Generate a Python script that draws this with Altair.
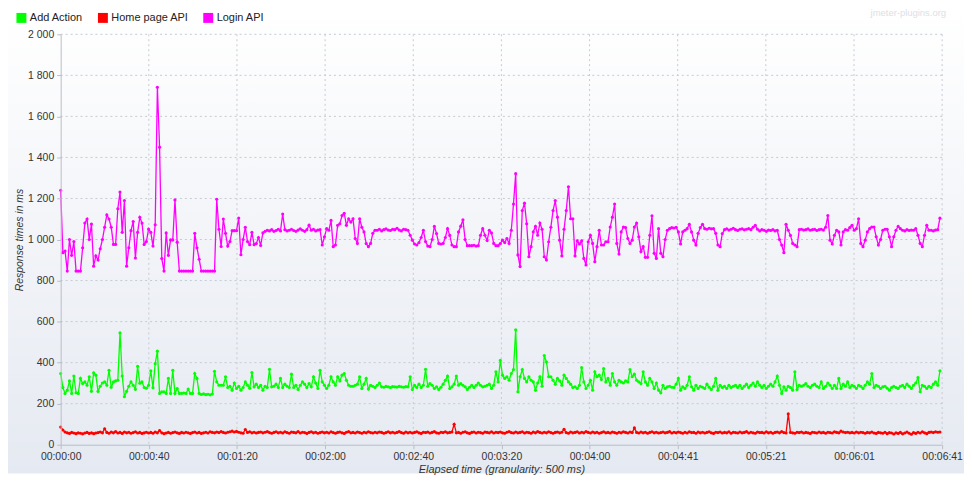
import altair as alt
import pandas as pd

# ---------------- data (1 sample per second) ----------------
series_names = ["Add Action", "Home page API", "Login API"]
series_colors = ["#00ff00", "#ff0000", "#ff00ff"]

x_tick_values = [0, 40.1, 80.2, 120.3, 160.4, 200.5, 240.6, 280.7, 320.8, 360.9, 401]
x_tick_labels = ["00:00:00", "00:00:40", "00:01:20", "00:02:00", "00:02:40", "00:03:20",
                 "00:04:00", "00:04:41", "00:05:21", "00:06:01", "00:06:41"]
y_tick_values = [0, 200, 400, 600, 800, 1000, 1200, 1400, 1600, 1800, 2000]

login_api = [
    1240, 936, 944, 846, 1000, 923, 990, 846, 846, 846, 960, 1080, 1100, 1000, 1075, 870, 920, 900, 955, 1000,
    1060, 1120, 1100, 1060, 976, 976, 1150, 1231, 1035, 1190, 870, 960, 1043, 1088, 910, 1035, 1108, 1080, 976, 990,
    1051, 1035, 968, 1072, 1742, 1450, 907, 846, 1032, 923, 998, 998, 1193, 987, 846, 846, 846, 846, 846, 846,
    846, 1030, 960, 904, 846, 846, 846, 846, 846, 846, 846, 1196, 1050, 966, 1100, 1030, 968, 990, 1043, 1043,
    1043, 1105, 926, 1000, 1060, 990, 975, 1035, 975, 980, 1010, 971, 1032, 1040, 1045, 1042, 1048, 1040, 1044, 1050,
    1042, 1124, 1048, 1042, 1045, 1050, 1044, 1040, 1046, 1052, 1045, 1040, 1048, 1070, 1045, 1050, 1042, 1046, 1048, 973,
    1013, 1053, 1045, 1093, 965, 973, 1069, 1077, 1117, 1128, 1069, 1101, 1085, 1101, 1005, 981, 1101, 1060, 1037, 980,
    965, 981, 1030, 1045, 1045, 1050, 1042, 1048, 1052, 1046, 1044, 1050, 1048, 1055, 1046, 1042, 1050, 1048, 1045, 1021,
    997, 978, 973, 985, 1010, 1045, 990, 968, 965, 1000, 1064, 1029, 981, 978, 981, 1010, 1053, 1020, 973, 965,
    965, 1037, 1065, 1096, 1000, 970, 970, 970, 972, 968, 970, 1021, 1053, 1021, 995, 1045, 1032, 981, 970, 970,
    980, 997, 985, 1005, 981, 1045, 1173, 1321, 925, 868, 1141, 1177, 1077, 916, 965, 1037, 1064, 1021, 1080, 1050,
    916, 900, 989, 1060, 1141, 1190, 1109, 997, 920, 1050, 1141, 1257, 1101, 1101, 920, 994, 978, 994, 908, 876,
    989, 1021, 981, 892, 965, 1045, 973, 973, 989, 989, 1061, 1109, 1173, 981, 929, 1037, 1061, 1058, 1005, 981,
    997, 1061, 1080, 1013, 941, 965, 913, 913, 1021, 1116, 933, 908, 1053, 933, 916, 1000, 1045, 1053, 1058, 1056,
    1060, 1037, 978, 1037, 1045, 1053, 1074, 1037, 997, 973, 1030, 1058, 1074, 1053, 1050, 1055, 1052, 1053, 1030, 973,
    965, 1029, 1048, 1052, 1046, 1050, 1055, 1048, 1044, 1050, 1052, 1047, 1050, 1053, 1048, 1060, 1069, 1050, 1042, 1048,
    1045, 1040, 1046, 1044, 1048, 1042, 1045, 1000, 973, 936, 1074, 1045, 1020, 981, 973, 965, 1048, 1050, 1046, 1048,
    1052, 1045, 1048, 1050, 1044, 1048, 1050, 1046, 1060, 1117, 997, 978, 1021, 1045, 1037, 973, 1037, 1048, 1045, 1058,
    1069, 1045, 1053, 1101, 981, 965, 997, 1037, 1053, 1061, 1061, 1013, 973, 1000, 1045, 1050, 1050, 1013, 965, 1013,
    1045, 1064, 1053, 1045, 1042, 1048, 1044, 1046, 1045, 1053, 1021, 981, 965, 1021, 1069, 1045, 1045, 1042, 1046, 1048,
    1104,
]

add_action = [
    347, 279, 250, 266, 311, 250, 335, 253, 250, 323, 298, 306, 290, 331, 260, 350, 339, 260, 285, 301,
    306, 290, 363, 280, 306, 311, 314, 545, 335, 234, 260, 285, 306, 290, 270, 382, 300, 306, 279, 275,
    290, 360, 278, 395, 456, 250, 258, 258, 250, 323, 250, 363, 250, 274, 250, 250, 252, 250, 271, 250,
    250, 347, 323, 250, 245, 248, 244, 246, 243, 247, 358, 306, 290, 290, 290, 331, 279, 285, 266, 301,
    274, 285, 266, 279, 306, 290, 275, 352, 282, 295, 279, 290, 266, 285, 279, 368, 282, 285, 295, 279,
    323, 279, 295, 285, 279, 344, 279, 290, 269, 290, 306, 295, 279, 298, 282, 331, 301, 274, 363, 306,
    290, 274, 290, 331, 306, 290, 331, 311, 339, 347, 314, 290, 285, 285, 290, 295, 331, 274, 295, 323,
    271, 290, 285, 279, 290, 301, 282, 280, 284, 282, 279, 283, 282, 281, 284, 282, 280, 283, 282, 331,
    269, 290, 279, 295, 279, 290, 368, 285, 298, 290, 274, 282, 269, 280, 295, 314, 335, 274, 282, 295,
    335, 290, 298, 290, 282, 269, 280, 290, 279, 290, 301, 290, 282, 285, 290, 295, 274, 290, 355, 306,
    411, 339, 323, 331, 314, 347, 366, 560, 258, 331, 366, 323, 306, 331, 314, 306, 266, 301, 331, 285,
    435, 403, 331, 331, 314, 295, 323, 311, 290, 339, 323, 306, 295, 279, 282, 274, 290, 376, 306, 274,
    290, 314, 266, 355, 331, 339, 318, 371, 306, 323, 290, 347, 306, 290, 314, 306, 301, 311, 306, 366,
    331, 344, 314, 306, 298, 355, 306, 290, 323, 306, 274, 301, 266, 253, 290, 274, 282, 285, 280, 279,
    295, 323, 266, 282, 274, 290, 331, 282, 266, 290, 274, 285, 280, 274, 295, 280, 269, 285, 323, 266,
    290, 279, 285, 274, 290, 279, 285, 290, 279, 290, 274, 285, 295, 279, 290, 301, 285, 306, 290, 279,
    290, 274, 285, 295, 285, 306, 335, 290, 250, 282, 266, 285, 279, 266, 355, 269, 290, 285, 290, 298,
    285, 279, 290, 295, 285, 279, 306, 274, 285, 301, 290, 274, 290, 274, 323, 274, 295, 285, 306, 279,
    290, 285, 274, 290, 285, 274, 290, 306, 295, 347, 279, 290, 285, 274, 282, 285, 275, 266, 279, 285,
    279, 274, 285, 290, 279, 295, 285, 274, 290, 301, 327, 258, 290, 285, 274, 285, 279, 295, 306, 290,
    360,
]

home_page_api = [
    86, 72, 62, 58, 55, 60, 57, 54, 58, 56, 53, 57, 60, 55, 58, 54, 57, 59, 62, 58,
    78, 60, 56, 62, 58, 64, 57, 60, 55, 62, 58, 61, 56, 59, 63, 57, 60, 55, 58, 61,
    57, 60, 56, 62, 58, 69, 58, 54, 57, 60, 56, 59, 62, 58, 55, 60, 57, 61, 58, 55,
    59, 62, 57, 60, 55, 58, 61, 57, 63, 60, 58, 62, 59, 64, 60, 57, 61, 63, 66, 62,
    65, 61, 58, 56, 74, 60, 63, 58, 61, 57, 60, 62, 58, 61, 64, 59, 56, 60, 63, 58,
    61, 57, 63, 59, 56, 62, 60, 58, 64, 57, 61, 59, 55, 60, 63, 58, 61, 56, 59, 62,
    58, 61, 57, 63, 59, 56, 60, 62, 58, 55, 61, 64, 58, 60, 57, 62, 59, 56, 61, 58,
    63, 59, 57, 61, 58, 62, 60, 56, 59, 63, 58, 61, 57, 60, 64, 59, 56, 62, 58, 61,
    57, 60, 63, 58, 55, 61, 59, 62, 57, 60, 64, 58, 56, 61, 59, 63, 58, 60, 62, 100,
    58, 60, 56, 61, 63, 58, 55, 60, 62, 57, 61, 59, 56, 62, 60, 58, 63, 57, 61, 59,
    62, 58, 56, 61, 64, 59, 57, 62, 58, 60, 63, 57, 61, 59, 56, 62, 58, 64, 60, 57,
    61, 58, 63, 59, 56, 60, 62, 58, 61, 75, 59, 56, 62, 58, 60, 63, 57, 61, 58, 64,
    60, 57, 62, 58, 61, 56, 59, 63, 58, 60, 57, 62, 59, 56, 61, 58, 63, 60, 57, 62,
    59, 82, 60, 57, 62, 58, 61, 56, 60, 63, 58, 61, 57, 59, 62, 58, 60, 64, 57, 61,
    58, 62, 59, 56, 61, 57, 63, 59, 60, 56, 62, 58, 61, 57, 60, 63, 58, 55, 61, 59,
    62, 57, 60, 58, 63, 56, 61, 59, 57, 62, 58, 60, 64, 57, 61, 58, 56, 62, 59, 60,
    57, 63, 58, 61, 56, 60, 62, 58, 64, 59, 57, 150, 60, 58, 56, 61, 59, 62, 57, 60,
    58, 55, 61, 59, 57, 62, 58, 60, 56, 61, 59, 57, 63, 60, 58, 66, 62, 59, 61, 58,
    60, 57, 62, 58, 61, 59, 56, 60, 58, 62, 57, 55, 60, 58, 56, 61, 54, 59, 57, 52,
    58, 55, 60, 53, 57, 62, 56, 51, 59, 55, 61, 57, 63, 58, 54, 60, 62, 59, 63, 61,
    62,
]

sample_step_s = 1  # one reading per second of elapsed time

rows = []
for name, vals in zip(series_names, [add_action, home_page_api, login_api]):
    for i, v in enumerate(vals):
        rows.append({"t": i * sample_step_s, "ms": v, "series": name})
df = pd.DataFrame(rows)

# ---------------- layout ----------------
W, H = 887, 413
FONT = "Liberation Sans, Arial, sans-serif"
TXT = "#333333"
AXC = "#b9bdc6"
GRID = "#c6cad2"

xscale = alt.Scale(domain=[0, 401], nice=False, zero=False)
yscale = alt.Scale(domain=[0, 2000], nice=False)

label_expr = "[" + ",".join("'%s'" % s for s in x_tick_labels) + "][round(datum.value / 40.1)]"

x_axis = alt.Axis(
    values=x_tick_values, labelExpr=label_expr, grid=False, zindex=1,
    domainColor=AXC, tickColor=AXC, tickSize=4, labelPadding=3,
    labelFont=FONT, labelFontSize=10.5, labelColor=TXT, labelFlush=False,
    title="Elapsed time (granularity: 500 ms)", titleFont=FONT, titleFontSize=11,
    titleFontStyle="italic", titleFontWeight="normal", titleColor=TXT,
    titleY=25, titleBaseline="middle",
)
y_axis = alt.Axis(
    values=y_tick_values, labelExpr="replace(format(datum.value, ','), ',', ' ')",
    grid=False, zindex=1, domainColor=AXC, tickColor=AXC, tickSize=4, labelPadding=3,
    labelFont=FONT, labelFontSize=10.5, labelColor=TXT,
    title="Response times in ms", titleFont=FONT, titleFontSize=10.5,
    titleFontStyle="italic", titleFontWeight="normal", titleColor=TXT,
    titleX=-41, titleY=H / 2, titleAngle=270, titleAlign="center", titleBaseline="middle",
)

bg = alt.Chart(pd.DataFrame({"k": [0]})).mark_rect(
    color=alt.LinearGradient(
        gradient="linear",
        stops=[alt.GradientStop(color="#ffffff", offset=0),
               alt.GradientStop(color="#e5e9f1", offset=1)],
        x1=0, x2=0, y1=0, y2=1,
    )
).encode(x=alt.value(-53), x2=alt.value(W + 22), y=alt.value(-25), y2=alt.value(H + 29))

ygrid = alt.Chart(pd.DataFrame({"ms": y_tick_values[1:]})).mark_rule(
    color=GRID, strokeDash=[2, 3], strokeWidth=1
).encode(y=alt.Y("ms:Q", scale=yscale, axis=y_axis))

xgrid = alt.Chart(pd.DataFrame({"t": x_tick_values[1:]})).mark_rule(
    color=GRID, strokeDash=[2, 3], strokeWidth=1
).encode(x=alt.X("t:Q", scale=xscale, axis=x_axis))

lines = alt.Chart(df).mark_line(
    strokeWidth=1.3,
    point=alt.OverlayMarkDef(filled=True, size=10, opacity=1),
).encode(
    x=alt.X("t:Q", scale=xscale, axis=x_axis),
    y=alt.Y("ms:Q", scale=yscale, axis=y_axis),
    color=alt.Color("series:N", scale=alt.Scale(domain=series_names, range=series_colors),
                    legend=alt.Legend(
                        orient="none", legendX=-45, legendY=-22, direction="horizontal",
                        title=None, symbolType="square", symbolSize=25, symbolStrokeWidth=5,
                        symbolOpacity=1, labelFont=FONT, labelFontSize=11, labelColor="#222222",
                        labelOffset=3, columnPadding=7, padding=0,
                    )),
    order=alt.Order("t:Q"),
)

watermark = alt.Chart(pd.DataFrame({"k": [0]})).mark_text(
    text="jmeter-plugins.org", font=FONT, fontSize=9.5, color="#dde1e8", align="right"
).encode(x=alt.value(W + 4), y=alt.value(-21))

chart = alt.layer(bg, ygrid, xgrid, lines, watermark).properties(
    width=W, height=H,
    padding={"left": 53, "top": 25, "right": 22, "bottom": 29},
    autosize=alt.AutoSizeParams(type="none"),
    background="#ffffff",
).configure_view(stroke=None)

chart.save("out.html", embed_options={"renderer": "svg", "actions": False})
